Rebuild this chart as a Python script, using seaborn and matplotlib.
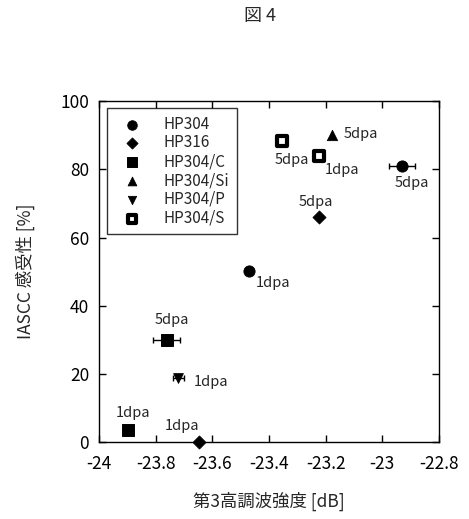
import matplotlib
matplotlib.use('Agg')
import matplotlib.pyplot as plt
import seaborn as sns
import pandas as pd

# data
series = ['HP304', 'HP304', 'HP316', 'HP316', 'HP304/C', 'HP304/C',
          'HP304/Si', 'HP304/P', 'HP304/S', 'HP304/S']
dose = ['1dpa', '5dpa', '1dpa', '5dpa', '1dpa', '5dpa',
        '5dpa', '1dpa', '5dpa', '1dpa']
harmonic = [-23.472, -22.93, -23.646, -23.225, -23.896, -23.761,
            -23.178, -23.72, -23.354, -23.223]
iascc = [50.2, 81.1, 0.0, 66.0, 3.5, 29.9, 90.2, 18.7, 88.2, 83.8]
harmonic_err = [0.0, 0.047, 0.0, 0.0, 0.015, 0.048, 0.0, 0.02, 0.0, 0.0]

x_ticks = [-24, -23.8, -23.6, -23.4, -23.2, -23, -22.8]
x_tick_labels = ['-24', '-23.8', '-23.6', '-23.4', '-23.2', '-23', '-22.8']
y_ticks = [0, 20, 40, 60, 80, 100]

df = pd.DataFrame({'series': series, 'dose': dose, 'x': harmonic,
                   'y': iascc, 'xerr': harmonic_err})

sns.set_style('ticks')
plt.rcParams['font.family'] = ['Noto Sans CJK JP', 'DejaVu Sans']

fig = plt.figure(figsize=(4.69, 5.19), dpi=100)
ax = fig.add_axes([0.211, 0.148, 0.725, 0.657])

# error bars first so markers sit on top
eb = df[df['xerr'] > 0]
ax.errorbar(eb['x'], eb['y'], xerr=eb['xerr'], fmt='none', ecolor='black',
            elinewidth=1, capsize=2.5, capthick=1, zorder=2)

styles = {
    'HP304': dict(marker='o', color='black', s=65),
    'HP316': dict(marker='D', color='black', s=45),
    'HP304/C': dict(marker='s', color='black', s=75),
    'HP304/Si': dict(marker='^', color='black', s=55),
    'HP304/P': dict(marker='v', color='black', s=50),
    'HP304/S': dict(marker='s', color='white', s=45, linewidth=3),
}
for name, st in styles.items():
    sub = df[df['series'] == name]
    sns.scatterplot(data=sub, x='x', y='y', ax=ax, edgecolor='black',
                    label=name, zorder=3, clip_on=False, **st)

# dose labels (offsets in pixels from the marker)
offsets = {
    ('HP304', '1dpa'): (7, -12, 'left'),
    ('HP304', '5dpa'): (10, -17, 'center'),
    ('HP316', '1dpa'): (-17, 16, 'center'),
    ('HP316', '5dpa'): (-3, 15, 'center'),
    ('HP304/C', '1dpa'): (5, 17, 'center'),
    ('HP304/C', '5dpa'): (5, 20, 'center'),
    ('HP304/Si', '5dpa'): (12, 1, 'left'),
    ('HP304/P', '1dpa'): (15, -4, 'left'),
    ('HP304/S', '5dpa'): (10, -19, 'center'),
    ('HP304/S', '1dpa'): (6, -14, 'left'),
}
for _, r in df.iterrows():
    dx, dy, ha = offsets[(r['series'], r['dose'])]
    ax.annotate(r['dose'], (r['x'], r['y']), xytext=(dx, dy),
                textcoords='offset pixels', ha=ha, va='center', fontsize=10.5)

ax.set_xlim(-24, -22.8)
ax.set_ylim(0, 100)
ax.set_xticks(x_ticks)
ax.set_xticklabels(x_tick_labels)
ax.set_yticks(y_ticks)
ax.tick_params(direction='in', top=True, right=True, length=5, width=1,
               labelsize=12.5, colors='black')
ax.tick_params(axis='x', pad=9)
ax.tick_params(axis='y', pad=7)
for sp in ax.spines.values():
    sp.set_color('black')
    sp.set_linewidth(1)

ax.set_xlabel('第3高調波強度 [dB]', fontsize=12.5, labelpad=14)
ax.set_ylabel('IASCC 感受性 [%]', fontsize=12.5, labelpad=18)

leg = ax.legend(loc='upper left', bbox_to_anchor=(0.024, 0.98),
                borderaxespad=0, fontsize=11, frameon=True, fancybox=False,
                edgecolor='black', handletextpad=1.0, labelspacing=0.12,
                borderpad=0.5, handlelength=2.2, markerscale=0.85)
leg.get_frame().set_linewidth(1)

fig.text(0.555, 0.969, '図 4', ha='center', va='center', fontsize=13)

fig.savefig('out.png', dpi=100, facecolor='white')
